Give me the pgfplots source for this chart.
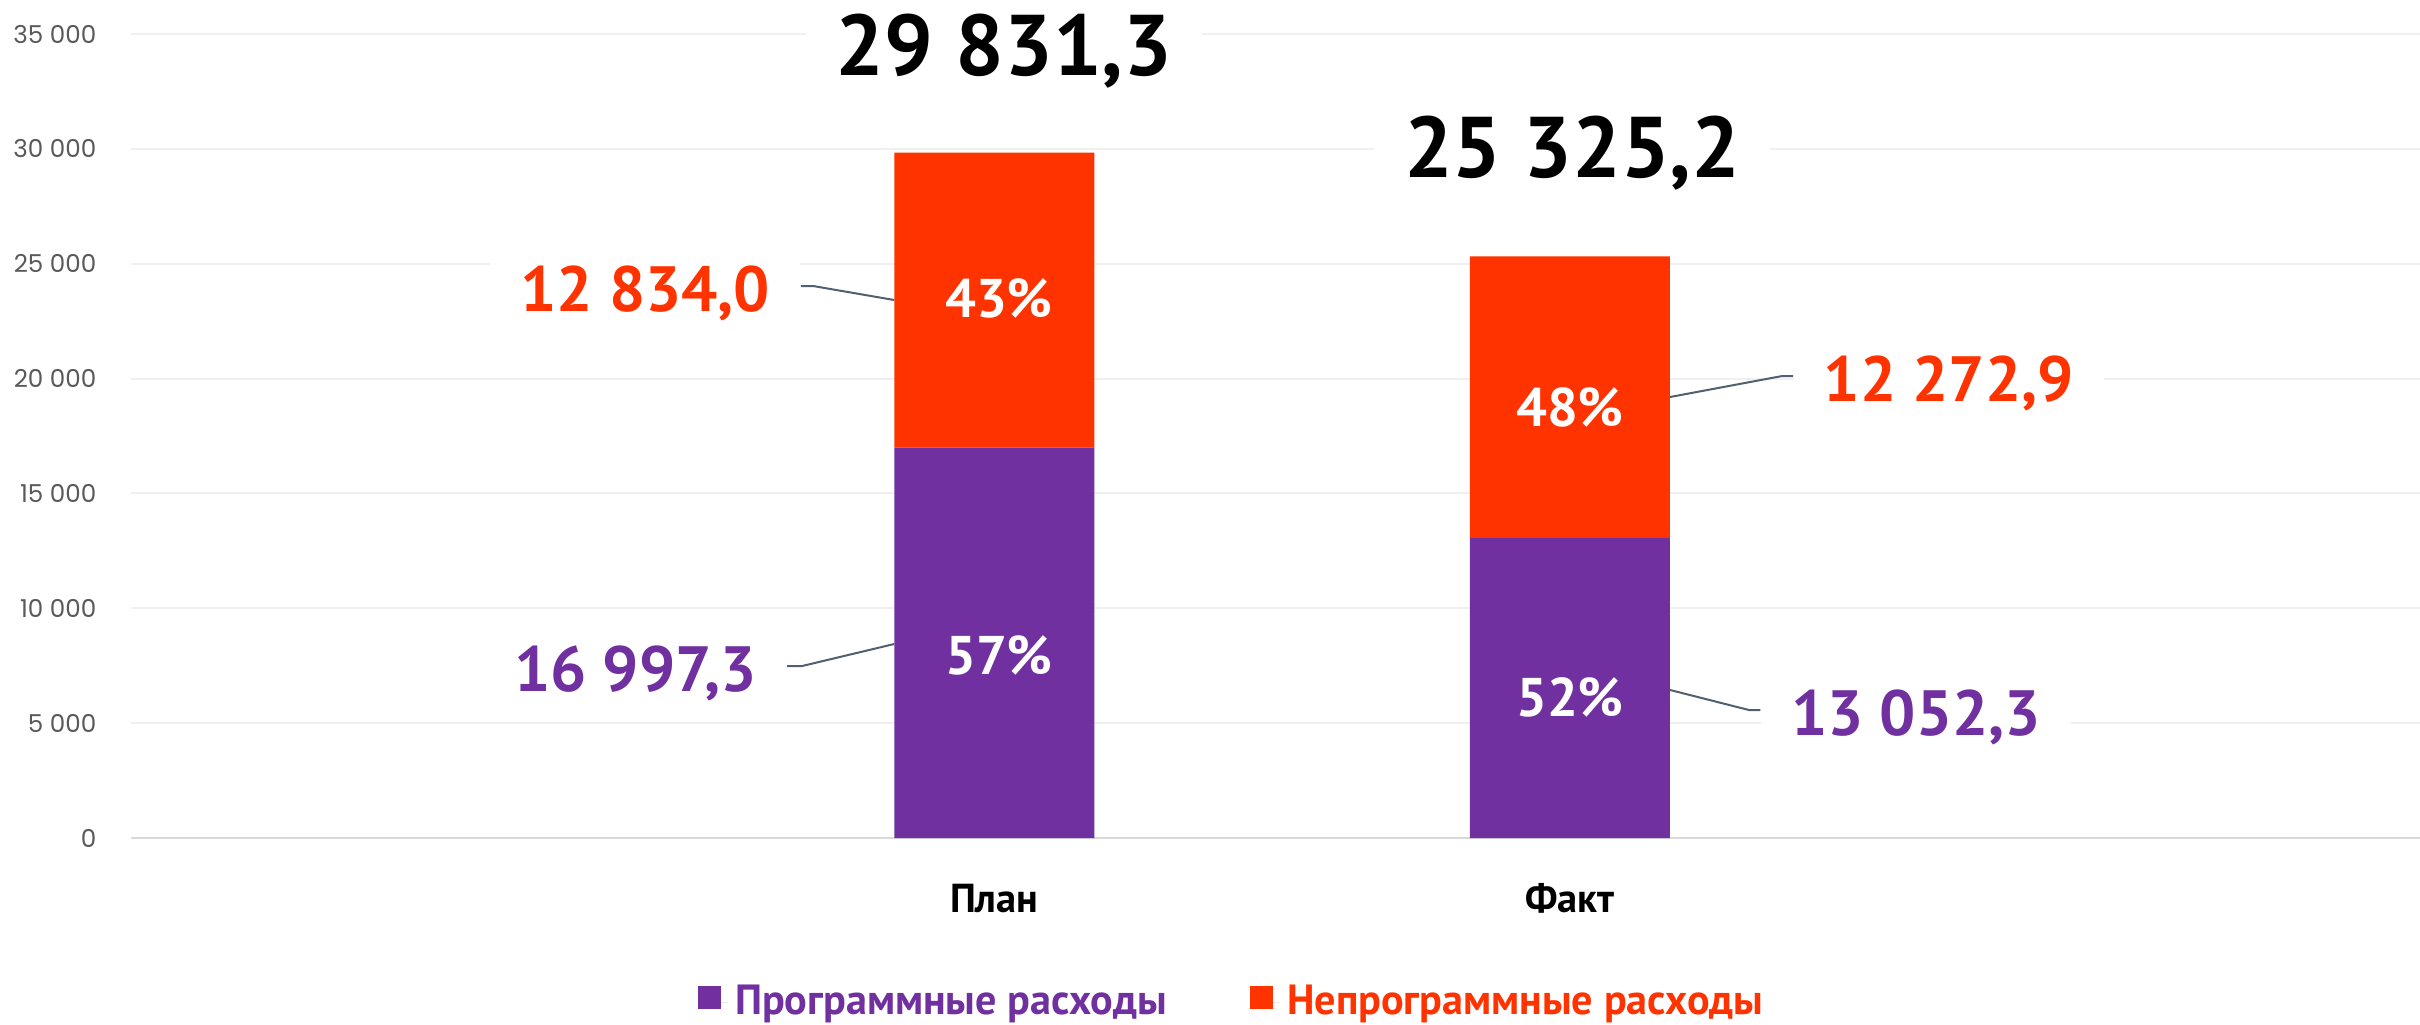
\documentclass[border=0pt]{standalone}
\usepackage{fontspec}
\setmainfont{PT Sans}
\newfontfamily\tickfont{Poppins}
\usepackage{pgfplots}
\pgfplotsset{compat=1.18}

\definecolor{progPurple}{RGB}{112,48,160}
\definecolor{nonprogRed}{RGB}{255,51,0}
\definecolor{tickGray}{RGB}{89,89,89}
\definecolor{gridGray}{RGB}{240,240,240}
\definecolor{axisGray}{RGB}{217,217,217}
\definecolor{leaderGray}{RGB}{80,96,112}

% value labels (segment sums) and their leader lines
\tikzset{
  vallabel/.style={font=\fontsize{18.2}{22}\selectfont\bfseries, fill=white, inner xsep=3mm, inner ysep=1mm},
  pctlabel/.style={font=\fontsize{15.5}{18}\selectfont\bfseries, text=white, anchor=base, inner sep=0pt},
  totlabel/.style={font=\fontsize{24.5}{28}\selectfont\bfseries, anchor=base, fill=white, inner xsep=3mm, inner ysep=1mm},
  leader/.style={draw=leaderGray, line width=0.2mm},
}

\begin{document}
\begin{tikzpicture}
\begin{axis}[
    at={(13.1mm,18.6mm)}, anchor=south west,
    scale only axis,
    width=228.9mm, height=80.4mm,
    ybar stacked,
    bar width=20mm,
    xmin=-1.5, xmax=2.477,
    ymin=0, ymax=35000,
    xtick={0,1}, xticklabels={План, Факт},
    ytick={0,5000,...,35000},
    scaled y ticks=false,
    axis x line*=bottom, axis y line*=left,
    x axis line style={-, draw=axisGray, line width=0.25mm},
    y axis line style={draw=none},
    tick style={draw=none},
    ymajorgrids,
    grid style={draw=gridGray, line width=0.2mm},
    xticklabel style={font=\fontsize{11.5}{13}\selectfont\bfseries, anchor=base, yshift=-7.4mm},
    yticklabel style={font=\tickfont\fontsize{7}{8}\selectfont, text=tickGray, anchor=east, inner sep=0pt, xshift=-3.4mm},
    /pgf/number format/assume math mode=true,
    /pgf/number format/1000 sep={\ },
    clip=false,
    legend style={
        at={(0.482,-0.205)}, anchor=center,
        draw=none, fill=none,
        legend columns=2,
        font=\fontsize{12}{14}\selectfont\bfseries,
        /tikz/every even column/.append style={column sep=7.6mm},
    },
    legend image code/.code={\fill[#1] (0mm,-0.6mm) rectangle (2.3mm,1.7mm); \path (2.3mm,0) -- (3.0mm,0);},
]

\addplot[fill=progPurple, draw=none] coordinates {(0,16997.3) (1,13052.3)};
\addlegendentry{\textcolor{progPurple}{Программные расходы}}
\addplot[fill=nonprogRed, draw=none] coordinates {(0,12834.0) (1,12272.9)};
\addlegendentry{\textcolor{nonprogRed}{Непрограммные расходы}}

% anchor points for the labels, drawn after the axis (over the bars)
\coordinate (totPlan) at (axis cs:0.017,33215);
\coordinate (totFact) at (axis cs:1.004,28775);
\coordinate (pPlanN) at (axis cs:0.008,22637);
\coordinate (pPlanP) at (axis cs:0.008,7139);
\coordinate (pFactN) at (axis cs:1.0,17935);
\coordinate (pFactP) at (axis cs:1.0,5311);
\coordinate (a1) at (axis cs:-0.336,24030);
\coordinate (a2) at (axis cs:-0.315,24030);
\coordinate (a3) at (axis cs:-0.174,23420);
\coordinate (b1) at (axis cs:-0.360,7487);
\coordinate (b2) at (axis cs:-0.334,7487);
\coordinate (b3) at (axis cs:-0.174,8445);
\coordinate (c1) at (axis cs:1.174,19198);
\coordinate (c2) at (axis cs:1.369,20112);
\coordinate (c3) at (axis cs:1.388,20112);
\coordinate (d1) at (axis cs:1.174,6443);
\coordinate (d2) at (axis cs:1.311,5572);
\coordinate (d3) at (axis cs:1.331,5572);
\coordinate (vA) at (axis cs:-0.336,22941);
\coordinate (vB) at (axis cs:-0.360,6399);
\coordinate (vC) at (axis cs:1.388,19023);
\coordinate (vD) at (axis cs:1.331,4484);
\end{axis}

% totals above the bars
\node[totlabel] at (totPlan) {29 831,3};
\node[totlabel] at (totFact) {25 325,2};

% shares inside the segments
\node[pctlabel] at (pPlanN) {43\%};
\node[pctlabel] at (pPlanP) {57\%};
\node[pctlabel] at (pFactN) {48\%};
\node[pctlabel] at (pFactP) {52\%};

% leader lines
\draw[leader] (a1) -- (a2) -- (a3);
\draw[leader] (b1) -- (b2) -- (b3);
\draw[leader] (c3) -- (c2) -- (c1);
\draw[leader] (d3) -- (d2) -- (d1);

% segment values
\node[vallabel, text=nonprogRed, anchor=base east] at (vA) {12 834,0};
\node[vallabel, text=progPurple, anchor=base east] at (vB) {16 997,3};
\node[vallabel, text=nonprogRed, anchor=base west] at (vC) {12 272,9};
\node[vallabel, text=progPurple, anchor=base west] at (vD) {13 052,3};

\pgfresetboundingbox
\path[use as bounding box] (0,0) rectangle (242mm,102.4mm);
\end{tikzpicture}
\end{document}
